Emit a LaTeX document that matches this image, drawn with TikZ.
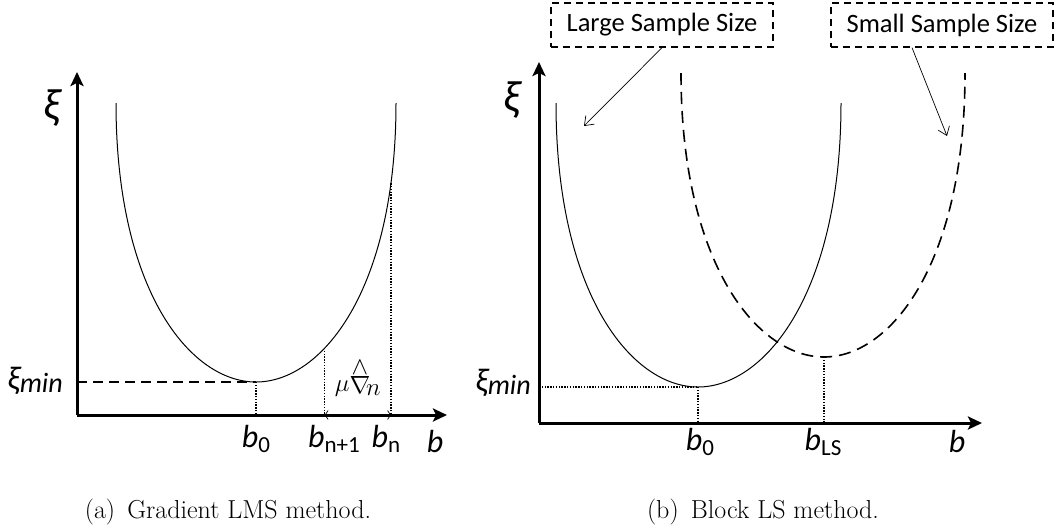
\documentclass[tikz,border=0pt]{standalone}
\usepackage{fontspec}
\newfontfamily\calib{Carlito}
\usetikzlibrary{arrows.meta}
\newcommand{\lsub}[1]{\raisebox{-5pt}{\fontsize{23}{25}\selectfont\upshape #1}}
\newcommand{\lsubit}[1]{\raisebox{-3pt}{\fontsize{28}{30}\selectfont\itshape #1}}

\begin{document}
\begin{tikzpicture}[
        x=1pt, y=-1pt,
        axis/.style={line width=3pt, -{Stealth[length=14pt,width=13pt,inset=3pt]}},
        curve/.style={line width=1pt},
        dcurve/.style={line width=1.6pt, dash pattern=on 12pt off 7pt},
        guide/.style={line width=1.2pt, dash pattern=on 1.4pt off 1.4pt},
        level/.style={line width=1.3pt, dash pattern=on 10pt off 6pt},
        steparrow/.style={line width=0.7pt, {Straight Barb[length=3pt,width=9pt]}-{Straight Barb[length=3pt,width=9pt]}},
        note/.style={line width=0.7pt, -{Straight Barb[length=8pt,width=12pt]}},
        sizebox/.style={draw, line width=1.3pt, dash pattern=on 7pt off 5pt, minimum width=222pt, minimum height=44pt, inner sep=0pt, font=\calib\fontsize{26.5}{30}\selectfont},
        lbl/.style={inner sep=0pt, font=\calib\fontsize{32}{36}\selectfont\itshape},
        capt/.style={inner sep=0pt, font=\fontsize{26}{30}\selectfont}
    ]
        \useasboundingbox (0,0) rectangle (1058,531);

        % (a) gradient LMS
        \coordinate (oA) at (77,415);
        \draw[axis] (oA) -- (77,72);
        \draw[axis] (oA) -- (447,415);

        \draw[curve] (116,103) .. controls (116,290) and (190,382) .. (256,382) coordinate (minA)
            .. controls (322,382) and (396,290) .. (396,103)
            coordinate[pos=0.35] (bnext) coordinate[pos=0.845] (bcur);

        \draw[level] (oA |- minA) -- (minA);
        \draw[guide] (minA) -- (minA |- oA);
        \draw[guide] (bnext) -- (bnext |- oA);
        \draw[guide] (bcur) -- (bcur |- oA);
        \draw[steparrow] (bnext |- oA) -- (bcur |- oA);

        \node[lbl, font=\calib\fontsize{44}{46}\selectfont\itshape] (xiA) at (52,108) {ξ};
        \node[lbl, anchor=base east, font=\calib\fontsize{33}{36}\selectfont\itshape] (ximinA) at (63,389) {ξ\lsubit{min}};
        \node[inner sep=0pt, font=\fontsize{36}{40}\selectfont] (mustep) at (358,378) {$\mu\mathord{\stackrel{\wedge}{\nabla}}_{\!n}$};
        \node[lbl, anchor=base] (b0A) at (256,447) {b\lsub{0}};
        \node[lbl, anchor=base] (bnextlbl) at (334,447) {b\lsub{n+1}};
        \node[lbl, anchor=base] (bcurlbl) at (386,447) {b\lsub{n}};
        \node[lbl, anchor=base] (bA) at (435,452) {b};

        % (b) block LS
        \coordinate (oB) at (539,423);
        \draw[axis] (oB) -- (539,62);
        \draw[axis] (oB) -- (982,423);

        \draw[curve] (556,103) .. controls (556,293) and (631,387) .. (698,387) coordinate (minB)
            .. controls (765,387) and (841,293) .. (841,103);
        \draw[dcurve] (681,73) .. controls (681,263) and (757,357) .. (824,357) coordinate (minC)
            .. controls (891,357) and (965,263) .. (965,73);

        \draw[guide] (oB |- minB) -- (minB);
        \draw[guide] (minB) -- (minB |- oB);
        \draw[guide] (minC) -- (minC |- oB);

        \node[sizebox] (large) at (662,25) {Large Sample Size};
        \node[sizebox] (small) at (942,25) {Small Sample Size};
        \coordinate (largetip) at (584,126);
        \coordinate (smalltip) at (947,136);
        \draw[note] (large.south) -- (largetip);
        \draw[note] ([xshift=-30pt]small.south) -- (smalltip);

        \node[lbl, font=\calib\fontsize{44}{46}\selectfont\itshape] (xiB) at (512,100) {ξ};
        \node[lbl, anchor=base east, font=\calib\fontsize{33}{36}\selectfont\itshape] (ximinB) at (531,391) {ξ\lsubit{min}};
        \node[lbl, anchor=base] (b0B) at (700,450) {b\lsub{0}};
        \node[lbl, anchor=base] (bls) at (823,450) {b\lsub{LS}};
        \node[lbl, anchor=base] (bB) at (957,452) {b};

        \node[capt] (capA) at (228,512) {(a)\, Gradient LMS method.};
        \node[capt] (capB) at (763,512) {(b)\, Block LS method.};
    \end{tikzpicture}
\end{document}
